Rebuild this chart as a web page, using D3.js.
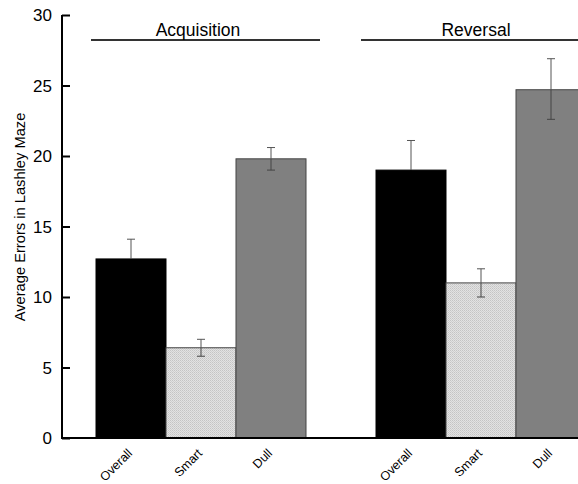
<!DOCTYPE html>
<html>
<head>
<meta charset="utf-8">
<script src="https://cdn.jsdelivr.net/npm/d3@7"></script>
<style>
  body { margin: 0; background: #fff; }
  text { font-family: "Liberation Sans", Arial, sans-serif; fill: #000; }
</style>
</head>
<body>
<div id="chart"></div>
<script>
let width = 578, height = 484;
let margin = { top: 15, right: 0, bottom: 46, left: 62 };

// data
let phases = ['Acquisition', 'Reversal'];
let groups = ['Overall', 'Smart', 'Dull'];
let means = [[12.7, 6.4, 19.8], [19.0, 11.0, 24.7]];
let errLow = [[11.3, 5.8, 19.0], [16.9, 10.0, 22.6]];
let errHigh = [[14.1, 7.0, 20.6], [21.1, 12.0, 26.9]];
let yTicks = [0, 5, 10, 15, 20, 25, 30];

let fills = { Overall: '#000000', Smart: 'url(#dots)', Dull: '#808080' };

var svg = d3.select('#chart').append('svg')
  .attr('width', width)
  .attr('height', height);

var defs = svg.append('defs');
var pat = defs.append('pattern')
  .attr('id', 'dots')
  .attr('width', 2).attr('height', 2)
  .attr('patternUnits', 'userSpaceOnUse');
pat.append('rect').attr('width', 2).attr('height', 2).attr('fill', '#e2e2e2');
pat.append('rect').attr('width', 1).attr('height', 1).attr('fill', '#c4c4c4');
pat.append('rect').attr('x', 1).attr('y', 1).attr('width', 1).attr('height', 1).attr('fill', '#cfcfcf');

let y = d3.scaleLinear().domain([0, 30]).range([438, 15]);

// slot index: 3 bars, one empty slot, 3 bars
let x = d3.scaleLinear().domain([0, 1]).range([96, 166]);
let barW = x(1) - x(0);

let bars = [];
phases.forEach((p, pi) => {
  groups.forEach((g, gi) => {
    bars.push({ phase: p, group: g, slot: pi * 4 + gi, v: means[pi][gi], lo: errLow[pi][gi], hi: errHigh[pi][gi] });
  });
});

// bars
svg.selectAll('.bar').data(bars).enter().append('rect')
  .attr('class', 'bar')
  .attr('x', d => x(d.slot))
  .attr('y', d => y(d.v))
  .attr('width', barW)
  .attr('height', d => y(0) - y(d.v))
  .attr('fill', d => fills[d.group])
  .attr('stroke', d => d.group === 'Overall' ? '#000' : '#444')
  .attr('stroke-width', 1);

// error bars (lower half disappears into the black bars)
var eb = svg.selectAll('.err').data(bars).enter().append('g').attr('class', 'err')
  .attr('stroke', '#555').attr('stroke-width', 1);
eb.append('line')
  .attr('x1', d => x(d.slot + 0.5)).attr('x2', d => x(d.slot + 0.5))
  .attr('y1', d => y(d.v)).attr('y2', d => y(d.hi));
eb.append('line')
  .attr('x1', d => x(d.slot + 0.5)).attr('x2', d => x(d.slot + 0.5))
  .attr('y1', d => y(d.lo)).attr('y2', d => y(d.v))
  .attr('stroke', d => d.group === 'Overall' ? '#000' : '#444');
eb.append('line')
  .attr('x1', d => x(d.slot + 0.5) - 4).attr('x2', d => x(d.slot + 0.5) + 4)
  .attr('y1', d => y(d.hi)).attr('y2', d => y(d.hi));
eb.append('line')
  .attr('x1', d => x(d.slot + 0.5) - 4).attr('x2', d => x(d.slot + 0.5) + 4)
  .attr('y1', d => y(d.lo)).attr('y2', d => y(d.lo))
  .attr('stroke', d => d.group === 'Overall' ? '#000' : '#444');

// y axis, ticks pointing inward
var yAxis = svg.append('g')
  .attr('transform', 'translate(' + margin.left + ',0)')
  .call(d3.axisRight(y).tickValues(yTicks).tickSize(8).tickFormat(''));
yAxis.select('.domain').attr('stroke', '#000').attr('stroke-width', 2).attr('d', 'M0,' + y(30) + 'V' + y(0));
yAxis.selectAll('.tick line').attr('stroke', '#000').attr('stroke-width', 2);

svg.selectAll('.ylab').data(yTicks).enter().append('text')
  .attr('x', 52)
  .attr('y', d => y(d) + 6)
  .attr('text-anchor', 'end')
  .style('font-size', '17px')
  .text(d => d);

// x axis line
svg.append('line')
  .attr('x1', margin.left - 1).attr('x2', width)
  .attr('y1', y(0)).attr('y2', y(0))
  .attr('stroke', '#000').attr('stroke-width', 2);

// x labels
svg.selectAll('.xlab').data(bars).enter().append('text')
  .attr('text-anchor', 'end')
  .attr('transform', d => 'translate(' + (x(d.slot + 0.5) + 2) + ',454) rotate(-45)')
  .style('font-size', '12.5px')
  .text(d => d.group);

// phase headers
phases.forEach((p, pi) => {
  svg.append('line')
    .attr('x1', pi === 0 ? x(0) - 5 : x(4) - 15)
    .attr('x2', pi === 0 ? x(3) + 14 : width)
    .attr('y1', 40).attr('y2', 40)
    .attr('stroke', '#333').attr('stroke-width', 2);
  svg.append('text')
    .attr('x', pi === 0 ? x(1.5) - 3 : x(5.5) - 5)
    .attr('y', 36)
    .attr('text-anchor', 'middle')
    .style('font-size', '17.5px')
    .text(p);
});

// y title
svg.append('text')
  .attr('transform', 'translate(25,' + 217 + ') rotate(-90)')
  .attr('text-anchor', 'middle')
  .style('font-size', '14.7px')
  .text('Average Errors in Lashley Maze');
</script>
</body>
</html>
